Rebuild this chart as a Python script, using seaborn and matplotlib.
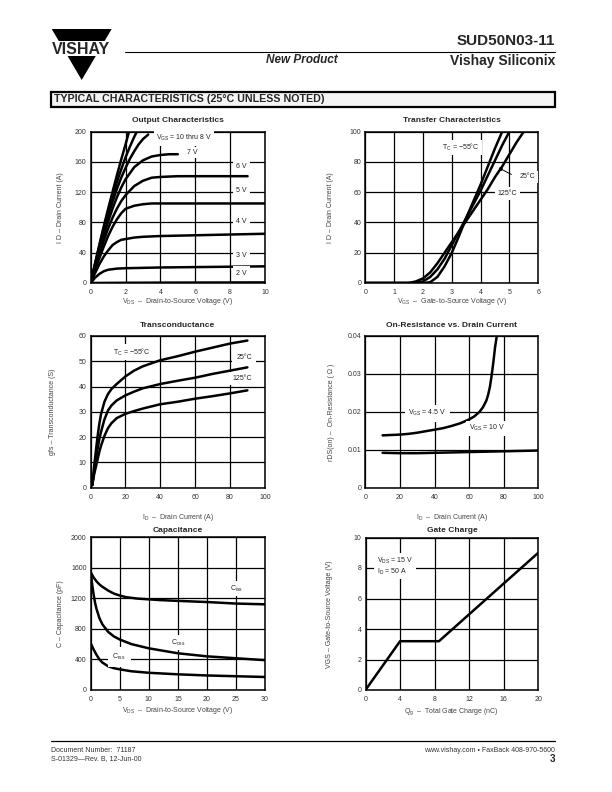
import seaborn as sns
import matplotlib.pyplot as plt
from matplotlib.patches import Polygon, Rectangle
from matplotlib.lines import Line2D

# ---- data ----
# Output characteristics: I_D (A) vs V_DS (V) for each V_GS
oc_vds_10v = [0, 0.25, 0.5, 0.75, 1.0, 1.25, 1.5, 1.75, 2.0, 2.2]
oc_id_10v = [0, 26, 51, 75, 98, 120, 142, 163, 183, 200]
oc_vds_9v = [0, 0.25, 0.5, 0.75, 1.0, 1.25, 1.5, 1.75, 2.0, 2.25, 2.5, 2.65]
oc_id_9v = [0, 25, 49, 72, 94, 114, 133, 150, 166, 180, 193, 200]
oc_vds_8v = [0, 0.25, 0.5, 0.75, 1.0, 1.25, 1.5, 1.75, 2.0, 2.25, 2.5, 2.75, 3.0, 3.3]
oc_id_8v = [0, 24, 47, 69, 89, 107, 124, 139, 152, 164, 174, 183, 190, 196]
oc_vds_7v = [0, 0.25, 0.5, 0.75, 1.0, 1.25, 1.5, 1.75, 2.0, 2.5, 3.0, 3.5, 4.0, 4.5, 5.0]
oc_id_7v = [0, 22, 43, 63, 81, 98, 113, 126, 137, 153, 162, 167, 169, 170, 170]
oc_vds_6v = [0, 0.25, 0.5, 0.75, 1.0, 1.25, 1.5, 1.75, 2.0, 2.5, 3.0, 3.5, 4.0, 5.0, 6.0, 7.0, 8.0, 9.0]
oc_id_6v = [0, 20, 39, 56, 72, 86, 98, 108, 116, 128, 135, 139, 140, 141, 141, 141, 141, 141]
oc_vds_5v = [0, 0.25, 0.5, 0.75, 1.0, 1.25, 1.5, 1.75, 2.0, 2.5, 3.0, 3.5, 4.0, 5.0, 6.0, 8.0, 10.0]
oc_id_5v = [0, 17, 33, 48, 62, 74, 84, 92, 98, 102, 104, 105, 105, 105, 105, 105, 105]
oc_vds_4v = [0, 0.25, 0.5, 0.75, 1.0, 1.25, 1.5, 1.75, 2.0, 2.5, 3.0, 4.0, 5.0, 6.0, 8.0, 10.0]
oc_id_4v = [0, 13, 25, 35, 43, 50, 54, 57, 58, 60, 61, 62, 62.5, 63, 64, 65]
oc_vds_3v = [0, 0.25, 0.5, 0.75, 1.0, 1.5, 2.0, 3.0, 4.0, 6.0, 8.0, 10.0]
oc_id_3v = [0, 7, 12, 15.5, 17.5, 19, 19.5, 20, 20.5, 21, 21.5, 22]
oc_vds_2v = [0, 2, 4, 6, 8, 10]
oc_id_2v = [0, 0.3, 0.5, 0.6, 0.7, 0.8]

# Transfer characteristics: I_D (A) vs V_GS (V)
tr_vgs_m55 = [0, 2.0, 2.25, 2.5, 2.75, 3.0, 3.25, 3.5, 3.75, 4.0, 4.25, 4.5, 4.75]
tr_id_m55 = [0, 0, 0.5, 4, 11, 20, 31, 43, 54, 65, 77, 89, 100]
tr_vgs_25 = [0, 1.75, 2.0, 2.25, 2.5, 2.75, 3.0, 3.25, 3.5, 3.75, 4.0, 4.25, 4.5, 4.75, 5.0]
tr_id_25 = [0, 0, 1, 4, 9, 16, 25, 34, 43, 52, 61, 71, 81, 91, 100]
tr_vgs_125 = [0, 1.5, 1.75, 2.0, 2.25, 2.5, 2.75, 3.0, 3.25, 3.5, 3.75, 4.0, 4.25, 4.5, 4.75, 5.0, 5.25, 5.5]
tr_id_125 = [0, 0, 1, 3, 7, 13, 20, 27, 34, 41, 48, 55, 62, 70, 77, 85, 93, 100]

# Transconductance: gfs (S) vs I_D (A)
gm_id = [1, 2, 3, 4, 5, 6, 8, 10, 12, 15, 20, 25, 30, 40, 50, 60, 70, 80, 90]
gm_m55 = [1, 8, 14, 20, 25, 29, 34, 37, 39, 41, 44, 46.3, 48, 50.4, 52, 53.8, 55.4, 57, 58.2]
gm_25 = [1, 6, 11, 15, 19, 22, 27, 30.5, 32.5, 34.5, 36.5, 38, 39.3, 41, 42.3, 43.5, 45, 46.3, 47.6]
gm_125 = [1, 5, 8, 11, 14, 16.5, 20.5, 23.5, 25.5, 27.5, 29.2, 30.3, 31.3, 33, 34, 35.2, 36.2, 37.3, 38.5]

# On-resistance (ohm) vs I_D (A)
rds_id_45v = [10, 15, 20, 25, 30, 35, 40, 45, 50, 55, 60, 63, 66, 68, 70, 71, 72, 73, 74, 75, 76]
rds_45v = [0.0138, 0.0139, 0.0140, 0.0142, 0.0145, 0.0149, 0.0153, 0.0157, 0.0163, 0.0170,
           0.0180, 0.0188, 0.0200, 0.0212, 0.0230, 0.0245, 0.0265, 0.0295, 0.0330, 0.0370, 0.0400]
rds_id_10v = [10, 20, 30, 40, 50, 60, 70, 80, 90, 100]
rds_10v = [0.0092, 0.0091, 0.0091, 0.0092, 0.0093, 0.0094, 0.0095, 0.0096, 0.0097, 0.0098]

# Capacitance (pF) vs V_DS (V)
cap_vds_iss = [0, 0.5, 1, 1.5, 2, 3, 4, 5, 6, 8, 10, 12, 15, 20, 25, 30]
cap_iss = [1540, 1470, 1420, 1380, 1350, 1300, 1260, 1235, 1215, 1195, 1185, 1175, 1165, 1150, 1130, 1120]
cap_vds_oss = [0, 0.25, 0.5, 0.75, 1, 1.5, 2, 3, 4, 5, 7, 10, 15, 20, 25, 30]
cap_oss = [1540, 1380, 1250, 1140, 1060, 940, 860, 760, 700, 660, 600, 545, 480, 440, 415, 390]
cap_vds_rss = [0, 0.5, 1, 1.5, 2, 3, 4, 5, 7, 10, 15, 20, 25, 30]
cap_rss = [610, 530, 460, 400, 360, 310, 285, 270, 245, 225, 205, 190, 180, 170]

# Gate charge: V_GS (V) vs Q_g (nC)
gc_qg = [0, 4, 8.5, 20]
gc_vgs = [0, 3.2, 3.2, 9]

# ---- style ----
sns.set_style('white')
plt.rcParams['font.family'] = ['Liberation Sans', 'DejaVu Sans']
plt.rcParams['mathtext.fontset'] = 'custom'
plt.rcParams['mathtext.rm'] = 'Liberation Sans'
plt.rcParams['mathtext.it'] = 'Liberation Sans:italic'
plt.rcParams['mathtext.bf'] = 'Liberation Sans:bold'

W, H = 612, 792
fig = plt.figure(figsize=(6.12, 7.92), dpi=100)
fig.patch.set_facecolor('white')

LW = 1.8
TXT = '#333333'


def fx(x):
    return x / W


def fy(y):
    return 1 - y / H


def ax_at(l, t, r, b):
    return fig.add_axes([l / W, 1 - b / H, (r - l) / W, (b - t) / H])


def setup(ax, title, xlim, ylim, xticks, yticks, xlabel, ylabel, ylab_off, xlab_off, title_off,
          yticklabels=None):
    ax.set_xlim(*xlim)
    ax.set_ylim(*ylim)
    ax.set_xticks(xticks)
    ax.set_yticks(yticks)
    if yticklabels is not None:
        ax.set_yticklabels(yticklabels)
    ax.grid(True, color='black', lw=0.9)
    for s in ax.spines.values():
        s.set_color('black')
        s.set_linewidth(1.1)
        s.set_visible(True)
    ax.tick_params(axis='x', length=0, labelsize=5, pad=4.6, colors=TXT)
    ax.tick_params(axis='y', length=0, labelsize=5, pad=3, colors=TXT)
    bb = ax.get_position()
    wpx, hpx = bb.width * W, bb.height * H
    ax.set_xlabel(xlabel, fontsize=5, color='#444444')
    ax.xaxis.label.set_va('center')
    ax.xaxis.set_label_coords(0.5, -xlab_off / hpx)
    ax.set_ylabel(ylabel, fontsize=5, color='#444444')
    ax.yaxis.label.set_va('center')
    ax.yaxis.set_label_coords(-ylab_off / wpx, 0.5)
    ax.text(0.5, 1 + title_off / hpx, title, transform=ax.transAxes, ha='center', va='center',
            fontsize=6, fontweight='bold')


def curve(ax, x, y):
    sns.lineplot(x=x, y=y, ax=ax, color='black', lw=LW, sort=False, estimator=None, legend=False)


def tag(ax, x, y, s, ha='center', pad=1.5):
    ax.text(x, y, s, ha=ha, va='center', fontsize=5, color='#222222', zorder=5,
            bbox=dict(facecolor='white', edgecolor='none', pad=pad))


# ---- header ----
fig.add_artist(Polygon([(fx(51.7), fy(29)), (fx(111.7), fy(29)), (fx(104.6), fy(41)), (fx(58.8), fy(41))],
                       closed=True, facecolor='black', edgecolor='none', transform=fig.transFigure))
fig.add_artist(Polygon([(fx(67.6), fy(56)), (fx(95.8), fy(56)), (fx(81.7), fy(80))],
                       closed=True, facecolor='black', edgecolor='none', transform=fig.transFigure))
fig.text(fx(81.5), fy(49.3), 'VISHAY', ha='center', va='center', fontsize=11.5, fontweight='bold')
fig.add_artist(Line2D([fx(125), fx(555)], [fy(51.5), fy(51.5)], color='black', lw=0.8,
                      transform=fig.transFigure))
fig.text(fx(555), fy(41), 'SUD50N03-11', ha='right', va='center', fontsize=11, fontweight='bold')
fig.text(fx(555), fy(61), 'Vishay Siliconix', ha='right', va='center', fontsize=10, fontweight='bold')
fig.text(fx(302), fy(60), 'New Product', ha='center', va='center', fontsize=8.5, fontweight='bold',
         fontstyle='italic')
fig.add_artist(Rectangle((fx(50.7), fy(107)), fx(555) - fx(50.7), (107 - 91.7) / H, facecolor='#f4f4f4',
                         edgecolor='black', lw=1.6, transform=fig.transFigure))
fig.text(fx(53.5), fy(99.5), 'TYPICAL CHARACTERISTICS (25\u00b0C UNLESS NOTED)', ha='left', va='center',
         fontsize=7.7, fontweight='heavy')

# ---- footer ----
fig.add_artist(Line2D([fx(50.7), fx(555)], [fy(741), fy(741)], color='black', lw=0.9,
                      transform=fig.transFigure))
fig.text(fx(51), fy(750), 'Document Number:  71187', ha='left', va='center', fontsize=5, color=TXT)
fig.text(fx(51), fy(759), 'S-01329\u2014Rev. B, 12-Jun-00', ha='left', va='center', fontsize=5, color=TXT)
fig.text(fx(555), fy(750), 'www.vishay.com \u2022 FaxBack 408-970-5600', ha='right', va='center', fontsize=5,
         color=TXT)
fig.text(fx(555), fy(759), '3', ha='right', va='center', fontsize=7, fontweight='bold')

# ---- 1. Output characteristics ----
ax1 = ax_at(90.7, 131.5, 265, 283)
setup(ax1, 'Output Characteristics', (0, 10), (0, 200), [0, 2, 4, 6, 8, 10], [0, 40, 80, 120, 160, 200],
      'V$_{\\mathregular{DS}}$  \u2013  Drain-to-Source Voltage (V)',
      'I D \u2013 Drain Current (A)', 30.5, 19, 10.5)
for x, y in [(oc_vds_10v, oc_id_10v), (oc_vds_9v, oc_id_9v), (oc_vds_8v, oc_id_8v), (oc_vds_7v, oc_id_7v),
             (oc_vds_6v, oc_id_6v), (oc_vds_5v, oc_id_5v), (oc_vds_4v, oc_id_4v), (oc_vds_3v, oc_id_3v),
             (oc_vds_2v, oc_id_2v)]:
    curve(ax1, x, y)
tag(ax1, 5.37, 191, r'V$_{\mathregular{GS}}$ = 10 thru 8 V')
tag(ax1, 5.8, 172, '7 V')
for yv, s in [(153.6, '6 V'), (122.7, '5 V'), (80.8, '4 V'), (35.8, '3 V'), (13.2, '2 V')]:
    tag(ax1, 8.66, yv, s, pad=2.5)

# ---- 2. Transfer characteristics ----
ax2 = ax_at(365.3, 131.5, 538.3, 283)
setup(ax2, 'Transfer Characteristics', (0, 6), (0, 100), [0, 1, 2, 3, 4, 5, 6], [0, 20, 40, 60, 80, 100],
      'V$_{\\mathregular{GS}}$  \u2013  Gate-to-Source Voltage (V)', 'I D \u2013 Drain Current (A)', 35, 18.7, 10.5)
curve(ax2, tr_vgs_m55, tr_id_m55)
curve(ax2, tr_vgs_25, tr_id_25)
curve(ax2, tr_vgs_125, tr_id_125)
tag(ax2, 3.31, 89.3, 'T$_{\\mathregular{C}}$ = \u221255\u00b0C')
tag(ax2, 5.63, 70, '25\u00b0C')
tag(ax2, 4.93, 59, '125\u00b0C', pad=2)
ax2.annotate('', xy=(4.53, 77), xytext=(5.15, 70.8),
             arrowprops=dict(arrowstyle='-|>', color='black', lw=0.7, mutation_scale=5))

# ---- 3. Transconductance ----
ax3 = ax_at(90.5, 336, 264.8, 487.7)
setup(ax3, 'Transconductance', (0, 100), (0, 60), [0, 20, 40, 60, 80, 100], [0, 10, 20, 30, 40, 50, 60],
      'I$_{\\mathregular{D}}$  \u2013  Drain Current (A)', 'gfs \u2013 Transconductance (S)', 38, 30, 10.5)
curve(ax3, gm_id, gm_m55)
curve(ax3, gm_id, gm_25)
curve(ax3, gm_id, gm_125)
tag(ax3, 23.8, 53.6, 'T$_{\\mathregular{C}}$ = \u221255\u00b0C')
tag(ax3, 88.1, 51.5, '25\u00b0C', pad=3)
tag(ax3, 86.8, 43.3, '125\u00b0C', pad=2)

# ---- 4. On-resistance vs drain current ----
ax4 = ax_at(365.3, 336, 538.3, 487.7)
setup(ax4, 'On-Resistance vs. Drain Current', (0, 100), (0, 0.04), [0, 20, 40, 60, 80, 100],
      [0, 0.01, 0.02, 0.03, 0.04], 'I$_{\\mathregular{D}}$  \u2013  Drain Current (A)',
      'rDS(on) \u2013  On-Resistance ( \u03a9 )', 33.6, 30, 10.5,
      yticklabels=['0', '0.01', '0.02', '0.03', '0.04'])
curve(ax4, rds_id_45v, rds_45v)
curve(ax4, rds_id_10v, rds_10v)
tag(ax4, 36, 0.0196, 'V$_{\\mathregular{GS}}$ = 4.5 V', pad=2.5)
tag(ax4, 70.2, 0.01565, 'V$_{\\mathregular{GS}}$ = 10 V')

# ---- 5. Capacitance ----
ax5 = ax_at(90.7, 537, 265, 690)
setup(ax5, 'Capacitance', (0, 30), (0, 2000), [0, 5, 10, 15, 20, 25, 30], [0, 400, 800, 1200, 1600, 2000],
      'V$_{\\mathregular{DS}}$  \u2013  Drain-to-Source Voltage (V)', 'C \u2013 Capacitance (pF)', 30.7, 21, 7)
curve(ax5, cap_vds_iss, cap_iss)
curve(ax5, cap_vds_oss, cap_oss)
curve(ax5, cap_vds_rss, cap_rss)
tag(ax5, 25.1, 1326, 'C$_{\\mathregular{iss}}$')
tag(ax5, 15.1, 622, 'C$_{\\mathregular{oss}}$')
tag(ax5, 4.9, 435, 'C$_{\\mathregular{rss}}$', pad=3.5)

# ---- 6. Gate charge ----
ax6 = ax_at(365.5, 537.5, 538.3, 690)
setup(ax6, 'Gate Charge', (0, 20), (0, 10), [0, 4, 8, 12, 16, 20], [0, 2, 4, 6, 8, 10],
      'Q$_{\\mathregular{g}}$  \u2013  Total Gate Charge (nC)', 'VGS \u2013 Gate-to-Source Voltage (V)',
      35.7, 21.7, 7.5)
curve(ax6, gc_qg, gc_vgs)
ax6.text(1.35, 8.1, 'V$_{\\mathregular{DS}}$ = 15 V\nI$_{\\mathregular{D}}$ = 50 A', ha='left', va='center',
         fontsize=5, color='#222222', zorder=5, linespacing=1.0,
         bbox=dict(facecolor='white', edgecolor='none', pad=2))

fig.savefig('out.png', dpi=100)
